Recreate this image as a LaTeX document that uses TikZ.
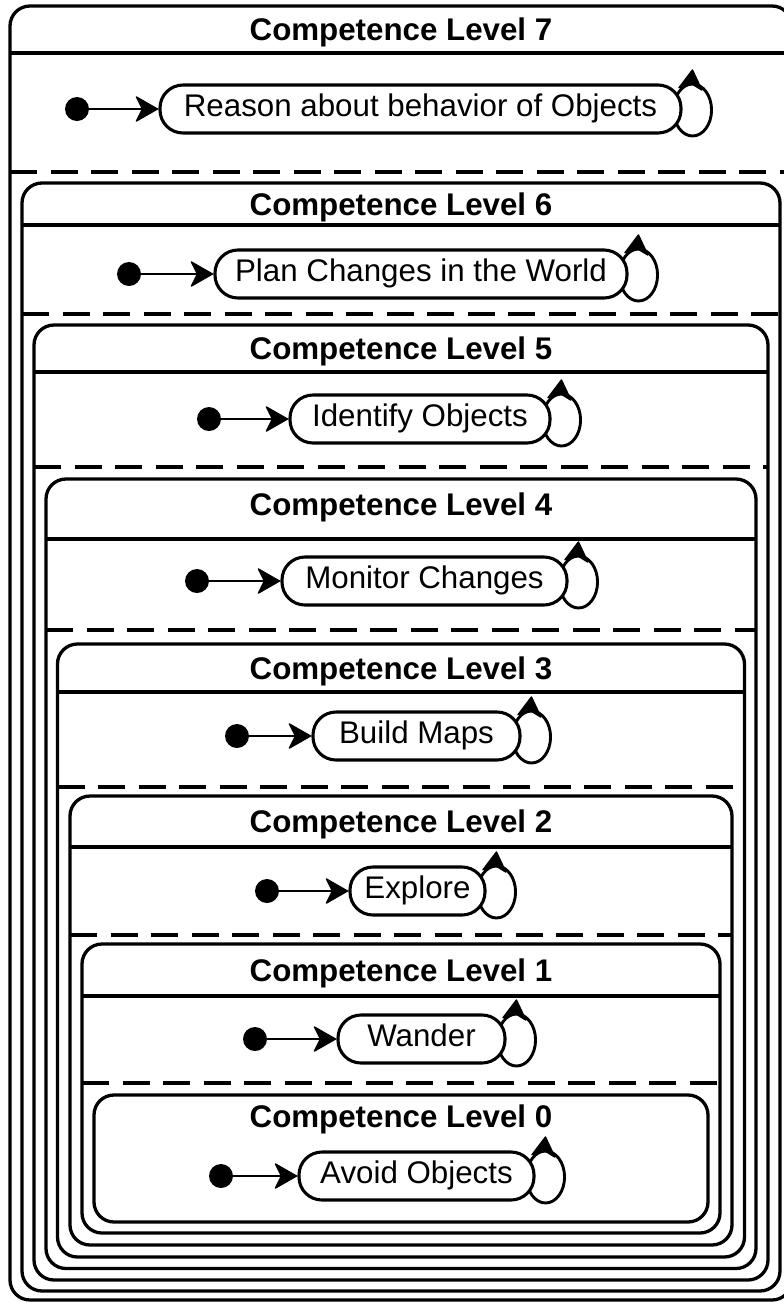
\documentclass[tikz,border=0pt]{standalone}
\usepackage{fontspec}
\setmainfont{Liberation Sans}
\pgfdeclarelayer{bg}
\pgfsetlayers{bg,main}
\tikzset{
  container/.style={line width=3.3pt, rounded corners=20pt},
  sepline/.style={line width=3.1pt},
  dashsep/.style={line width=3.3pt, dash pattern=on 27pt off 13.5pt},
  leveltitle/.style={font=\fontsize{31.3}{36}\selectfont\bfseries, anchor=base, inner sep=0pt},
  statebox/.style={draw, line width=3.1pt, fill=white, rounded corners=23pt, minimum height=48pt,
    inner xsep=2pt, inner ysep=0pt, text height=22.5pt, text depth=8pt, font=\fontsize{31.3}{36}\selectfont},
  initdot/.style={circle, fill=black, minimum size=24pt, inner sep=0pt},
  initline/.style={line width=2.8pt, shorten >=14pt},
  loopline/.style={line width=2.9pt},
  tipfill/.style={fill=black, draw=black, line width=1.4pt, line join=round},
  bigtip/.pic={\path[tipfill] (-1,0) -- (-22,-12) -- (-16,0) -- (-22,12) -- cycle;},
  looptipshape/.pic={\path[tipfill] (-1,0) -- (-20,-11.5) -- (-14.5,0) -- (-20,11.5) -- cycle;},
}
\newcommand{\initarrow}[2]{%
  \draw[initline] (#1) -- (#2);
  \pic at (#2.west) {bigtip};
}
\newcommand{\selfloop}[1]{%
  \begin{pgfonlayer}{bg}
    \draw[loopline] ([shift={(10,1)}]#1.east) ellipse [x radius=19pt, y radius=26pt];
  \end{pgfonlayer}
  \pic[rotate=84] at ([shift={(10,-40)}]#1.east) {looptipshape};
}
\begin{document}
\begin{tikzpicture}[x=1pt,y=-1pt]
\clip (0,0) rectangle (784,1302);
\begin{pgfonlayer}{bg}
  \fill[white] (0,0) rectangle (784,1302);
\end{pgfonlayer}

% Level 7
\draw[container] (10,6) rectangle (792,1300);
\draw[sepline] (10,53) -- (792,53);
\node[leveltitle] (t7) at (401,40.5) {Competence Level 7};
\draw[dashsep] (10,172) -- (792,172);
\node[statebox, minimum width=521pt] (s7) at (420.5,109) {Reason about behavior of Objects};
\node[initdot] (i7) at (77,109) {};
\initarrow{i7}{s7}
\selfloop{s7}

% Level 6
\draw[container] (22,183) rectangle (780,1291);
\draw[sepline] (22,225) -- (780,225);
\node[leveltitle] (t6) at (401,215) {Competence Level 6};
\draw[dashsep] (22,314) -- (780,314);
\node[statebox, minimum width=412pt] (s6) at (421,274) {Plan Changes in the World};
\node[initdot] (i6) at (129,274) {};
\initarrow{i6}{s6}
\selfloop{s6}

% Level 5
\draw[container] (34,325) rectangle (768,1280);
\draw[sepline] (34,372) -- (768,372);
\node[leveltitle] (t5) at (401,359.5) {Competence Level 5};
\draw[dashsep] (34,467) -- (768,467);
\node[statebox, minimum width=260pt] (s5) at (420,419) {Identify Objects};
\node[initdot] (i5) at (209,419) {};
\initarrow{i5}{s5}
\selfloop{s5}

% Level 4
\draw[container] (46,479) rectangle (756,1268.5);
\draw[sepline] (46,539) -- (756,539);
\node[leveltitle] (t4) at (401,515) {Competence Level 4};
\draw[dashsep] (46,630) -- (756,630);
\node[statebox, minimum width=285pt] (s4) at (424.5,581) {Monitor Changes};
\node[initdot] (i4) at (197,581) {};
\initarrow{i4}{s4}
\selfloop{s4}

% Level 3
\draw[container] (57.5,644) rectangle (744.5,1257);
\draw[sepline] (57.5,692) -- (744.5,692);
\node[leveltitle] (t3) at (401,679) {Competence Level 3};
\draw[dashsep] (57.5,787) -- (744.5,787);
\node[statebox, minimum width=207pt] (s3) at (416.5,736) {Build Maps};
\node[initdot] (i3) at (237,736) {};
\initarrow{i3}{s3}
\selfloop{s3}

% Level 2
\draw[container] (70,796) rectangle (732,1245);
\draw[sepline] (70,847) -- (732,847);
\node[leveltitle] (t2) at (401,832.5) {Competence Level 2};
\draw[dashsep] (70,935) -- (732,935);
\node[statebox, minimum width=135pt] (s2) at (417.5,891) {Explore};
\node[initdot] (i2) at (267,891) {};
\initarrow{i2}{s2}
\selfloop{s2}

% Level 1
\draw[container] (82,944) rectangle (720,1233);
\draw[sepline] (82,996) -- (720,996);
\node[leveltitle] (t1) at (401,981) {Competence Level 1};
\draw[dashsep] (82,1083) -- (720,1083);
\node[statebox, minimum width=167pt] (s1) at (421.5,1039) {Wander};
\node[initdot] (i1) at (255,1039) {};
\initarrow{i1}{s1}
\selfloop{s1}

% Level 0
\draw[container] (94,1095) rectangle (708,1222);
\node[leveltitle] (t0) at (401,1127) {Competence Level 0};
\node[statebox, minimum width=235pt] (s0) at (416.5,1176) {Avoid Objects};
\node[initdot] (i0) at (221,1176) {};
\initarrow{i0}{s0}
\selfloop{s0}
\end{tikzpicture}
\end{document}
